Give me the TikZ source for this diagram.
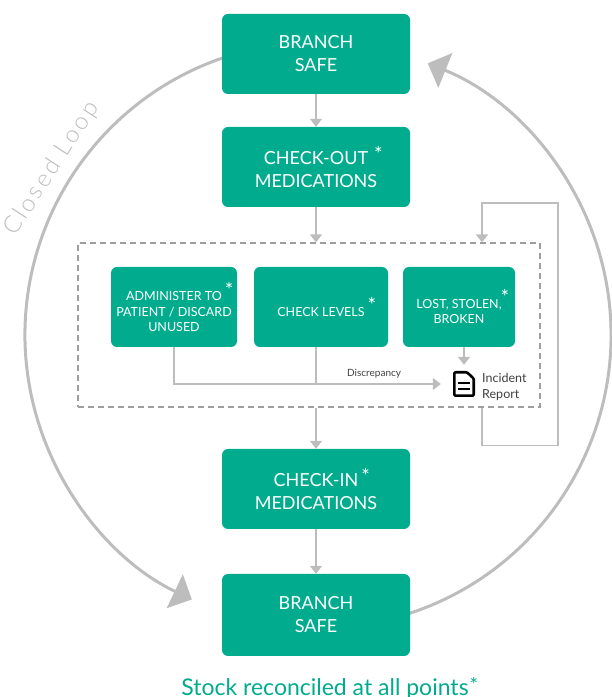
\documentclass[tikz,border=0pt]{standalone}
\usepackage{fontspec}
\setmainfont{Lato}
\newfontfamily\duenn{Lato Light}[LetterSpace=12]
\usetikzlibrary{arrows.meta}
\definecolor{gruen}{HTML}{00AC8D}
\definecolor{grau}{HTML}{BDBDBD}
\definecolor{strich}{HTML}{9E9E9E}
\newcommand{\stern}[1][3pt]{\rlap{\hspace{#1}\raisebox{3.5pt}{\fontsize{20}{20}\selectfont *}}}

\begin{document}
\begin{tikzpicture}[x=1pt,y=1pt,
    kasten/.style={rectangle,rounded corners=6pt,fill=gruen,text=white,align=center,
        minimum width=188pt,minimum height=80pt,inner sep=0pt,font=\fontsize{18}{23}\selectfont},
    klein/.style={kasten,font=\fontsize{12.5}{15.5}\selectfont},
    pfeil/.style={draw=grau,line width=1.4pt,-{Triangle[length=8pt,width=12pt]}},
    linie/.style={draw=grau,line width=1.4pt},
    bogen/.style={draw=grau,line width=3pt,-{Triangle[length=19pt,width=37pt]}}]
\useasboundingbox (0,0) rectangle (612,697);

\coordinate (mitte) at (318,362);
\draw[bogen] (mitte) ++(105:293) arc[start angle=105,end angle=244.5,radius=293];
\draw[bogen] (mitte) ++(-75:293) arc[start angle=-75,end angle=68,radius=293];
\path (mitte) ++(148:314) node[rotate=57,text=grau,font=\duenn\fontsize{24}{24}\selectfont] (loop) {Closed Loop};

\node[kasten] (safeoben) at (316,643) {BRANCH\\SAFE};
\node[kasten] (out) at (316,530) {CHECK-OUT\stern[6pt]\\MEDICATIONS};
\node[draw=strich,dash pattern=on 6pt off 4pt,line width=1.2pt,minimum width=462pt,
    minimum height=164pt,inner sep=0pt] (stage) at (309,372) {};
\node[klein,minimum width=126pt] (admin) at (174,390) {ADMINISTER TO\stern\\PATIENT / DISCARD\\UNUSED};
\node[klein,minimum width=134pt] (levels) at (321,390) {CHECK LEVELS\stern};
\node[klein,minimum width=112pt] (lost) at (459,390) {LOST, STOLEN,\stern[-1pt]\\BROKEN};
\node[kasten] (in) at (316,208) {CHECK-IN\stern\\MEDICATIONS};
\node[kasten,minimum height=82pt] (safeunten) at (316,82) {BRANCH\\SAFE};

\node[minimum width=22pt,minimum height=26pt,inner sep=0pt] (doc) at (464,313) {};
\draw[line width=2.6pt,rounded corners=1pt,line join=round] (doc.center) ++(-9.7,-11.7)
    -- ++(0,23.4) -- ++(12.7,0) -- ++(6.7,-6.2) -- ++(0,-17.2) -- cycle;
\draw[line width=2.4pt] (doc.center) ++(-6,1) -- ++(12,0);
\draw[line width=2.4pt] (doc.center) ++(-6,-5) -- ++(12,0);
\node[anchor=west,align=left,inner sep=0pt,text=black!75,font=\fontsize{12.5}{16}\selectfont]
    (incident) at (482,310) {Incident\\Report};

\node[text=gruen,font=\fontsize{23}{23}\selectfont,anchor=base,inner sep=0pt] (abgleich)
    at (325,1.5) {Stock reconciled at all points\stern[1pt]};

\draw[pfeil] (safeoben) -- (out);
\draw[pfeil] (out.south) -- (out.south |- stage.north);
\draw[pfeil] (stage.south -| in.north) -- (in.north);
\draw[pfeil] (in) -- (safeunten);

\coordinate (treffpunkt) at (out.south |- doc.west);
\draw[pfeil] (admin.south) |- ([xshift=-12pt]doc.west)
    node[pos=0.875,above=2pt,text=black!75,font=\fontsize{10}{10}\selectfont] (disc) {Discrepancy};
\draw[linie] (levels.south -| treffpunkt) -- (treffpunkt);
\draw[pfeil] (lost.south -| doc.north) -- ([yshift=6pt]doc.north);

\coordinate (rueck) at (558,494);
\draw[pfeil] (stage.south -| incident.west) -- ++(0,-38) -| (rueck) -| (stage.north -| incident.west);
\end{tikzpicture}
\end{document}
